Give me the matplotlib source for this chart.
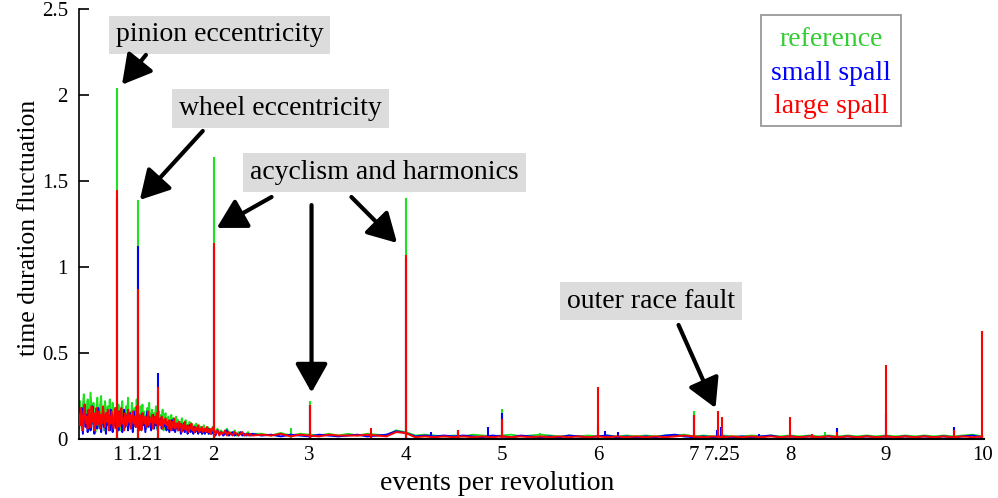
import numpy as np
import matplotlib
matplotlib.use("Agg")
import matplotlib.pyplot as plt
from matplotlib.patches import Rectangle
from matplotlib.transforms import ScaledTranslation

plt.rcParams['font.family'] = ['Liberation Serif', 'DejaVu Serif']

# ---- data -------------------------------------------------------------
series_names = ["reference", "small spall", "large spall"]
line_colors = ["#1ee01e", "#0000ff", "#ff0000"]
text_colors = ["#33cc33", "#0000ff", "#ff0000"]

# low orders: 0.60 .. 1.99 events/rev (step 0.01), 2.00 .. 2.40 (step 0.02)
fine_x = np.round(np.arange(0.60, 1.995, 0.01), 2)
mid_x = np.round(np.arange(2.00, 2.401, 0.02), 2)
# higher orders: 2.5 .. 10.0 events/rev (step 0.1)
sparse_x = np.round(np.arange(2.5, 10.001, 0.1), 1)

ref_fine = [0.10, 0.22, 0.15, 0.05, 0.19, 0.26, 0.12, 0.08, 0.17, 0.23,
            0.06, 0.14, 0.27, 0.18, 0.09, 0.21, 0.11, 0.04, 0.16, 0.24,
            0.13, 0.07, 0.20, 0.25, 0.10, 0.15, 0.05, 0.22, 0.17, 0.08,
            0.19, 0.12, 0.23, 0.06, 0.14, 0.21, 0.09, 0.18, 0.11, 0.16,
            0.08, 0.20, 0.13, 0.05, 0.17, 0.22, 0.10, 0.15, 0.07, 0.19,
            0.12, 0.24, 0.09, 0.16, 0.06, 0.21, 0.14, 0.11, 0.18, 0.07,
            0.23, 0.10, 0.15, 0.05, 0.19, 0.13, 0.20, 0.08, 0.16, 0.11,
            0.06, 0.18, 0.14, 0.21, 0.09, 0.12, 0.17, 0.07, 0.15, 0.10,
            0.19, 0.06, 0.13, 0.16, 0.08, 0.14, 0.11, 0.17, 0.05, 0.12,
            0.15, 0.07, 0.11, 0.13, 0.05, 0.10, 0.14, 0.08, 0.12, 0.06,
            0.09, 0.13, 0.07, 0.11, 0.05, 0.10, 0.08, 0.12, 0.06, 0.09,
            0.04, 0.11, 0.07, 0.08, 0.05, 0.10, 0.06, 0.09, 0.04, 0.07,
            0.08, 0.05, 0.09, 0.06, 0.04, 0.08, 0.05, 0.07, 0.03, 0.06,
            0.08, 0.04, 0.06, 0.05, 0.07, 0.03, 0.06, 0.04, 0.05, 0.07]
small_fine = [0.06, 0.15, 0.09, 0.18, 0.03, 0.12, 0.20, 0.07, 0.14, 0.04,
              0.17, 0.10, 0.05, 0.13, 0.19, 0.08, 0.03, 0.15, 0.11, 0.06,
              0.18, 0.09, 0.14, 0.04, 0.12, 0.16, 0.07, 0.10, 0.03, 0.15,
              0.08, 0.13, 0.05, 0.17, 0.10, 0.04, 0.12, 0.08, 0.14, 0.06,
              0.12, 0.05, 0.16, 0.09, 0.13, 0.04, 0.11, 0.17, 0.07, 0.10,
              0.14, 0.05, 0.09, 0.15, 0.08, 0.12, 0.04, 0.16, 0.10, 0.07,
              0.13, 0.09, 0.05, 0.14, 0.11, 0.06, 0.15, 0.08, 0.12, 0.04,
              0.10, 0.16, 0.07, 0.13, 0.09, 0.05, 0.11, 0.14, 0.06, 0.10,
              0.08, 0.13, 0.05, 0.11, 0.09, 0.12, 0.06, 0.10, 0.07, 0.11,
              0.09, 0.05, 0.10, 0.07, 0.04, 0.09, 0.06, 0.11, 0.05, 0.08,
              0.04, 0.07, 0.09, 0.05, 0.06, 0.08, 0.03, 0.07, 0.05, 0.09,
              0.04, 0.06, 0.07, 0.03, 0.05, 0.08, 0.04, 0.06, 0.05, 0.03,
              0.07, 0.04, 0.05, 0.06, 0.03, 0.05, 0.04, 0.06, 0.03, 0.05,
              0.04, 0.03, 0.05, 0.04, 0.06, 0.03, 0.04, 0.05, 0.03, 0.04]
large_fine = [0.14, 0.08, 0.18, 0.11, 0.05, 0.16, 0.20, 0.09, 0.13, 0.06,
              0.17, 0.12, 0.07, 0.19, 0.10, 0.15, 0.05, 0.13, 0.18, 0.08,
              0.11, 0.16, 0.06, 0.14, 0.09, 0.19, 0.12, 0.07, 0.15, 0.10,
              0.17, 0.05, 0.13, 0.09, 0.16, 0.11, 0.06, 0.14, 0.18, 0.08,
              0.10, 0.16, 0.07, 0.13, 0.18, 0.09, 0.12, 0.05, 0.15, 0.11,
              0.08, 0.17, 0.10, 0.14, 0.06, 0.12, 0.16, 0.09, 0.13, 0.07,
              0.19, 0.11, 0.08, 0.14, 0.10, 0.05, 0.15, 0.12, 0.09, 0.13,
              0.07, 0.11, 0.16, 0.08, 0.12, 0.10, 0.14, 0.06, 0.11, 0.13,
              0.09, 0.15, 0.07, 0.12, 0.10, 0.08, 0.13, 0.06, 0.11, 0.09,
              0.12, 0.08, 0.10, 0.06, 0.11, 0.09, 0.05, 0.10, 0.07, 0.12,
              0.06, 0.09, 0.08, 0.05, 0.10, 0.07, 0.09, 0.04, 0.08, 0.06,
              0.10, 0.05, 0.07, 0.08, 0.04, 0.07, 0.06, 0.09, 0.05, 0.06,
              0.04, 0.07, 0.06, 0.05, 0.08, 0.04, 0.06, 0.05, 0.07, 0.04,
              0.05, 0.06, 0.04, 0.07, 0.05, 0.04, 0.06, 0.03, 0.05, 0.06]

ref_mid = [0.05, 0.03, 0.06, 0.04, 0.05, 0.03, 0.04, 0.06, 0.03, 0.04,
           0.03, 0.05, 0.02, 0.04, 0.03, 0.04, 0.02, 0.03, 0.04, 0.02, 0.03]
small_mid = [0.04, 0.02, 0.05, 0.03, 0.04, 0.02, 0.03, 0.05, 0.02, 0.03,
             0.04, 0.02, 0.03, 0.02, 0.04, 0.02, 0.03, 0.02, 0.03, 0.02, 0.03]
large_mid = [0.07, 0.03, 0.05, 0.02, 0.04, 0.03, 0.05, 0.02, 0.04, 0.03,
             0.02, 0.04, 0.03, 0.02, 0.03, 0.04, 0.02, 0.03, 0.02, 0.03, 0.02]

ref_sparse = [0.03, 0.02, 0.035, 0.02, 0.03, 0.025, 0.02, 0.03, 0.02, 0.03,
              0.02, 0.03, 0.025, 0.02, 0.05, 0.04, 0.02, 0.025, 0.02, 0.015,
              0.02, 0.015, 0.025, 0.02, 0.015, 0.02, 0.025, 0.015, 0.02, 0.025,
              0.02, 0.015, 0.02, 0.015, 0.02, 0.015, 0.02, 0.015, 0.02, 0.015,
              0.02, 0.015, 0.02, 0.02, 0.025, 0.015, 0.02, 0.015, 0.02, 0.015,
              0.015, 0.02, 0.015, 0.02, 0.015, 0.02, 0.015, 0.02, 0.015, 0.02,
              0.015, 0.02, 0.015, 0.02, 0.015, 0.02, 0.015, 0.02, 0.015, 0.02,
              0.015, 0.02, 0.015, 0.02, 0.025, 0.015]
small_sparse = [0.02, 0.025, 0.015, 0.025, 0.02, 0.015, 0.025, 0.02, 0.015, 0.02,
                0.025, 0.015, 0.02, 0.025, 0.045, 0.035, 0.015, 0.02, 0.015, 0.02,
                0.015, 0.02, 0.015, 0.01, 0.02, 0.015, 0.01, 0.02, 0.015, 0.01,
                0.015, 0.01, 0.02, 0.015, 0.01, 0.015, 0.02, 0.01, 0.015, 0.01,
                0.015, 0.01, 0.02, 0.025, 0.015, 0.01, 0.015, 0.01, 0.015, 0.01,
                0.015, 0.01, 0.015, 0.02, 0.01, 0.015, 0.01, 0.015, 0.01, 0.015,
                0.01, 0.015, 0.01, 0.015, 0.01, 0.015, 0.01, 0.015, 0.01, 0.015,
                0.01, 0.015, 0.01, 0.015, 0.02, 0.01]
large_sparse = [0.025, 0.02, 0.03, 0.015, 0.025, 0.02, 0.015, 0.025, 0.02, 0.02,
                0.02, 0.025, 0.02, 0.015, 0.04, 0.035, 0.01, 0.015, 0.01, 0.015,
                0.01, 0.015, 0.01, 0.015, 0.01, 0.015, 0.01, 0.015, 0.01, 0.015,
                0.01, 0.015, 0.01, 0.015, 0.01, 0.015, 0.01, 0.015, 0.01, 0.015,
                0.01, 0.015, 0.01, 0.015, 0.02, 0.015, 0.01, 0.015, 0.01, 0.015,
                0.01, 0.015, 0.01, 0.015, 0.01, 0.015, 0.01, 0.015, 0.01, 0.015,
                0.01, 0.015, 0.01, 0.015, 0.01, 0.015, 0.01, 0.015, 0.01, 0.015,
                0.01, 0.015, 0.01, 0.015, 0.01, 0.015]

# sharp orders: (events per revolution, amplitude)
ref_peaks_x = [1.0, 1.21, 2.0, 3.0, 4.0, 5.0, 7.0, 2.81, 5.40, 8.36, 4.54, 1.42]
ref_peaks_y = [2.04, 1.39, 1.64, 0.22, 1.40, 0.175, 0.16, 0.065, 0.035, 0.04, 0.04, 0.27]
small_peaks_x = [1.0, 1.21, 2.0, 3.0, 4.0, 5.0, 1.42, 4.857, 4.546, 6.0, 6.07, 6.21,
                 7.0, 7.24, 7.28, 7.68, 8.49, 9.0, 9.71, 4.26]
small_peaks_y = [1.40, 1.12, 1.12, 0.20, 1.05, 0.15, 0.385, 0.07, 0.055, 0.08, 0.045, 0.04,
                 0.14, 0.05, 0.07, 0.03, 0.065, 0.15, 0.07, 0.04]
large_peaks_x = [1.0, 1.21, 2.0, 3.0, 4.0, 5.0, 6.0, 7.0, 7.25, 7.29, 8.0, 9.0, 10.0,
                 1.42, 4.546, 3.64, 8.23, 8.49, 9.71]
large_peaks_y = [1.45, 0.87, 1.14, 0.20, 1.07, 0.115, 0.30, 0.14, 0.16, 0.13, 0.13, 0.43, 0.63,
                 0.30, 0.052, 0.065, 0.03, 0.04, 0.05]

x_ticks = [1, 1.21, 2, 3, 4, 5, 6, 7, 7.25, 8, 9, 10]
x_tick_labels = ["1", "1.21", "2", "3", "4", "5", "6", "7", "7.25", "8", "9", "10"]
y_ticks = [0, 0.5, 1, 1.5, 2, 2.5]
y_tick_labels = ["0", "0.5", "1", "1.5", "2", "2.5"]

# ---- figure -----------------------------------------------------------
fig = plt.figure(figsize=(9.98, 4.98), dpi=100)
ax = fig.add_axes([0.0792, 0.1185, 0.9068, 0.8634])

fine = [ref_fine, small_fine, large_fine]
mid = [ref_mid, small_mid, large_mid]
sparse = [ref_sparse, small_sparse, large_sparse]
peaks = [(ref_peaks_x, ref_peaks_y), (small_peaks_x, small_peaks_y),
         (large_peaks_x, large_peaks_y)]

x_all = np.concatenate([fine_x, mid_x, sparse_x])
for i, col in enumerate(line_colors):
    y_all = np.concatenate([fine[i], mid[i], sparse[i]])
    z = 2 + i
    ax.plot(x_all, y_all, color=col, lw=1.4, zorder=z)
    px, py = peaks[i]
    ax.vlines(px, 0, py, colors=col, lw=1.5, zorder=z)

ax.set_xlim(0.6, 10.02)
ax.set_ylim(0, 2.5)

for s in ["top", "right"]:
    ax.spines[s].set_visible(False)
ax.spines["left"].set_linewidth(1.2)
ax.spines["bottom"].set_linewidth(1.5)
ax.spines["bottom"].set_zorder(10)

ax.set_xticks(x_ticks)
ax.set_xticklabels(x_tick_labels, fontsize=15)
ax.set_yticks(y_ticks)
ax.set_yticklabels(y_tick_labels, fontsize=15)
ax.tick_params(axis="x", length=0, pad=5)
ax.tick_params(axis="y", direction="in", length=7, width=1.2, pad=8)

# nudge the close-set labels so they clear their neighbours
label_shift_px = {"1.21": 7, "7.25": 4}
for lbl in ax.get_xticklabels():
    shift = label_shift_px.get(lbl.get_text())
    if shift:
        lbl.set_transform(lbl.get_transform() + ScaledTranslation(shift / 100, 0, fig.dpi_scale_trans))

ax.set_xlabel("events per revolution", fontsize=20)
ax.set_ylabel("time duration fluctuation", fontsize=18.5)
ax.xaxis.set_label_coords(0.462, -0.074)
ax.yaxis.set_label_coords(-0.043, 0.49)

# ---- annotations ------------------------------------------------------
box = dict(boxstyle="square,pad=0.25", fc="#dcdcdc", ec="none")
arrow = dict(arrowstyle="-|>,head_length=0.8,head_width=0.45", lw=3, color="black",
             mutation_scale=22, shrinkA=0, shrinkB=0)

ax.text(2.064, 2.349, "pinion eccentricity", fontsize=20, ha="center", va="center", bbox=box, zorder=20)
ax.text(2.698, 1.924, "wheel eccentricity", fontsize=20, ha="center", va="center", bbox=box, zorder=20)
ax.text(3.778, 1.552, "acyclism and harmonics", fontsize=20, ha="center", va="center", bbox=box, zorder=20)
ax.text(6.55, 0.802, "outer race fault", fontsize=20, ha="center", va="center", bbox=box, zorder=20)

arrows = [((1.296, 2.233), (1.047, 2.06)),
          ((1.888, 1.791), (1.233, 1.39)),
          ((2.604, 1.407), (2.033, 1.227)),
          ((3.02, 1.36), (3.02, 0.27)),
          ((3.435, 1.407), (3.91, 1.14)),
          ((6.84, 0.663), (7.225, 0.18))]
for tail, tip in arrows:
    ax.annotate("", xy=tip, xytext=tail, arrowprops=arrow, zorder=21)

# ---- legend box -------------------------------------------------------
ax.add_patch(Rectangle((0.754, 0.728), 0.154, 0.258, transform=ax.transAxes,
                       fc="white", ec="#999999", lw=1.3, zorder=30))
for name, tc, yy in zip(series_names, text_colors, [0.928, 0.851, 0.774]):
    ax.text(0.831, yy, name, color=tc, fontsize=20, ha="center", va="center",
            transform=ax.transAxes, zorder=31)

fig.savefig("out.png", dpi=100)
